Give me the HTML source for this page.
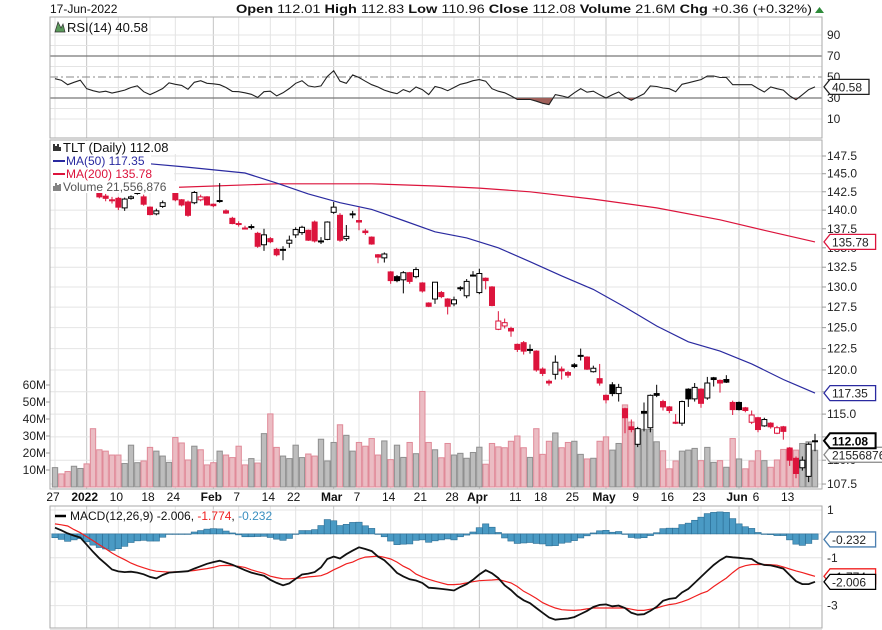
<!DOCTYPE html>
<html><head><meta charset="utf-8"><style>
html,body{margin:0;padding:0;background:#fff;}
svg{display:block;font-family:"Liberation Sans",Arial,sans-serif;}
</style></head><body>
<svg id="chart" width="882" height="630" viewBox="0 0 882 630" xmlns="http://www.w3.org/2000/svg">
<rect x="0" y="0" width="882" height="630" fill="#fff"/>
<g id="grid"></g>
<g id="vol"></g>
<g id="ma"></g>
<g id="candles"></g>
<g id="rsi"></g>
<g id="macd"></g>
<g id="frames"></g>
<g id="axes"></g>
<g id="legend"></g>
</svg>
<script>
const dateLabels=["27","2022","10","18","24","Feb","7","14","22","Mar","7","14","21","28","Apr","11","18","25","May","9","16","23","Jun","6","13"];
const dateLabelIdx=[0,5,10,15,19,25,29,34,38,44,48,53,58,63,67,73,77,82,87,92,97,102,108,111,116];
const monthLabels=["2022","Feb","Mar","Apr","May","Jun"];
const opens=[148.4,148.5,147.5,146.9,147.9,146.1,144.6,143.2,141.9,141.4,141.6,140.3,141.6,142.4,141.8,140.4,139.5,140.5,142.9,142.9,141.4,141.1,141.0,141.4,141.8,140.8,141.2,139.9,138.9,138.2,137.6,137.8,136.9,135.4,136.2,134.8,134.8,135.6,136.7,137.0,137.3,138.4,135.9,136.1,139.7,139.3,136.2,139.5,138.6,137.2,136.4,134.1,133.7,131.9,131.3,130.9,131.8,131.3,130.5,128.0,128.5,129.3,128.5,127.9,129.8,128.9,131.4,129.3,131.1,130.0,124.8,125.2,124.9,123.0,123.2,122.4,122.2,120.1,118.7,119.5,120.1,119.7,120.6,121.7,121.5,119.8,119.0,117.1,118.3,117.3,115.6,113.6,111.7,115.3,113.5,117.3,116.4,115.8,114.1,114.0,117.8,116.7,117.8,116.8,119.1,118.8,118.9,116.3,116.3,115.7,114.1,114.6,113.7,114.0,112.9,113.6,111.3,110.2,109.2,108.3,112.01];
const highs=[149.2,149.0,148.0,148.0,148.7,146.3,145.0,143.4,142.2,141.8,141.8,141.7,142.0,142.6,142.1,140.5,140.2,141.3,143.5,143.0,141.5,141.3,142.6,142.1,141.9,140.9,143.7,140.1,139.1,138.5,137.9,138.1,137.1,137.5,136.4,135.0,135.2,136.6,137.7,137.9,137.4,138.6,136.4,138.5,141.1,139.6,138.0,139.9,140.4,137.5,136.5,134.2,134.4,132.0,131.5,132.0,131.9,132.5,130.6,128.1,130.6,129.5,128.6,128.8,130.1,131.0,132.0,132.3,131.2,130.1,127.0,126.1,125.1,123.1,123.4,123.0,122.3,120.3,118.9,121.7,120.4,119.9,120.8,122.5,121.6,120.5,120.7,117.2,118.6,118.4,115.7,114.4,113.6,116.3,117.2,118.3,116.6,115.9,115.0,116.5,117.9,118.5,117.9,119.2,119.2,118.9,119.4,116.5,116.4,115.8,115.4,114.7,114.6,114.1,113.7,113.7,111.4,110.4,110.4,111.9,112.83];
const lows=[147.9,147.7,146.2,146.7,147.5,144.6,143.7,141.6,141.2,140.9,140.0,139.9,141.4,142.1,140.6,139.3,139.3,140.3,142.7,141.2,140.5,139.1,140.8,141.2,140.6,140.4,141.0,139.5,138.1,137.8,137.4,137.4,135.0,134.6,135.6,133.9,133.4,135.0,136.3,136.7,135.9,135.7,135.5,136.0,139.5,135.8,135.9,138.9,137.3,136.7,135.4,133.0,133.1,130.4,130.6,129.2,130.4,131.1,129.3,127.5,127.9,128.6,126.6,127.6,129.5,128.6,131.3,129.1,129.7,127.6,124.7,124.9,123.9,122.1,121.8,121.9,119.8,119.3,118.2,118.9,118.9,119.1,120.2,121.1,120.0,119.7,118.2,116.2,117.0,116.4,112.9,113.0,111.4,113.1,113.0,116.9,115.4,115.1,113.9,113.7,115.8,116.4,115.7,116.6,118.1,117.4,118.5,114.9,115.4,115.2,113.9,113.0,113.6,113.4,112.8,112.2,109.4,108.1,108.9,107.7,110.96];
const closes=[148.7,148.1,146.6,147.6,148.3,144.9,144.1,141.8,141.6,141.3,140.4,141.5,141.8,142.4,140.8,139.4,139.9,141.0,143.1,141.4,140.7,139.3,142.4,141.8,140.7,140.6,141.3,139.6,138.2,138.1,137.5,137.7,135.2,136.7,135.8,134.1,134.8,136.0,137.4,137.7,136.0,135.9,135.9,138.4,140.4,136.0,136.5,139.5,138.4,137.0,135.5,133.8,134.2,130.8,130.8,131.8,130.7,132.2,129.5,127.6,130.6,128.8,127.6,128.4,129.9,130.7,131.5,131.7,130.8,127.7,125.8,125.6,124.6,122.4,122.2,122.4,120.0,119.6,118.5,120.9,119.9,119.4,120.4,121.7,120.1,120.2,118.5,116.6,117.3,118.0,114.6,113.3,113.4,115.1,117.1,117.1,115.8,115.4,114.0,116.4,116.7,118.0,116.2,118.5,118.9,118.5,118.6,115.5,115.5,115.4,114.9,113.3,114.4,113.6,113.5,113.1,110.0,108.6,110.0,111.7,112.08];
const volumes=[11.4,7.7,9.1,12.2,10.9,13.6,34.3,21.9,21.1,18.8,18.8,13.8,24.6,14.3,15.3,23.3,21.1,18.2,14.5,29.1,25.9,15.9,24.0,21.9,13.0,14.3,21.1,18.8,17.3,24.0,13.0,16.7,14.1,31.4,43.0,23.3,18.2,16.7,24.6,17.3,19.4,18.2,28.1,15.3,26.2,36.6,30.4,21.1,26.2,24.0,28.5,18.8,27.1,16.1,24.6,17.4,26.2,19.6,56.2,26.2,21.9,17.2,25.6,18.8,19.8,16.9,20.3,23.4,13.4,25.6,23.6,23.1,26.9,30.0,23.1,17.4,34.3,19.2,26.9,31.8,23.1,26.2,26.9,19.2,16.5,16.9,26.9,29.5,21.7,25.6,48.3,38.2,33.3,33.9,33.9,26.6,21.3,10.7,15.3,21.1,21.7,22.7,15.5,23.3,14.5,15.5,11.6,28.5,16.5,10.7,15.3,21.3,15.5,11.6,15.9,22.1,22.3,21.7,25.6,26.6,21.6];
const ma50Idx=[15,20,30,35,40,45,50,55,60,65,70,75,80,85,90,95,100,105,110,115,120];
const ma50Vals=[146.4,146.0,145.1,143.7,142.2,141.0,140.1,138.6,137.1,136.3,135.0,133.2,131.4,129.7,127.5,125.2,123.3,122.2,120.7,118.9,117.35];
const ma200Idx=[19,35,50,60,67,75,85,95,105,112,120];
const ma200Vals=[143.1,143.6,143.6,143.3,143.0,142.5,141.5,140.3,138.7,137.3,135.78];
const rsiVals=[48.4,47,42.7,45,47,38.9,37,35.5,36.5,34.8,36,37.5,40,41.5,36,33.2,36,39,44.5,43,42,38.3,45,46.5,44,43.5,42.7,40,36.3,36,35,33.5,30.5,36,36.5,32,35,39,44,46.5,41.5,40.5,41.5,50.5,56,46,44,52,49.5,46,42.7,40.5,37.5,35.5,34.1,38,35.7,40.5,38,33.2,41,39.5,37,40,43,44.5,46.5,47.5,46,38.9,36.5,35,32,28.7,28.7,28.7,27,25,23.7,33.2,32,30.5,35,38.9,35.5,36.5,33,30,33,35.7,31,27.8,31,34,41.4,41,39.5,38.9,36,43,44.5,46,47.5,51,51,49.5,49.5,42.7,42.7,42.7,42.7,39,35.7,40.5,38.9,37.5,32,28.4,33,38,40.58];
const rsiTicks=[90,70,50,30,10];
const macdVals=[0.26,0.15,0.02,-0.07,-0.15,-0.45,-0.75,-1.02,-1.25,-1.49,-1.57,-1.60,-1.58,-1.62,-1.69,-1.80,-1.86,-1.72,-1.62,-1.60,-1.58,-1.56,-1.45,-1.35,-1.25,-1.18,-1.12,-1.20,-1.29,-1.40,-1.52,-1.62,-1.69,-1.75,-1.92,-2.05,-2.15,-2.07,-1.88,-1.70,-1.66,-1.60,-1.40,-1.05,-0.95,-1.03,-0.85,-0.70,-0.56,-0.63,-0.72,-0.95,-1.10,-1.35,-1.63,-1.78,-1.90,-1.95,-2.05,-2.25,-2.27,-2.30,-2.33,-2.37,-2.22,-2.10,-1.92,-1.70,-1.52,-1.65,-1.85,-2.15,-2.35,-2.60,-2.78,-2.90,-3.10,-3.30,-3.50,-3.59,-3.56,-3.54,-3.48,-3.35,-3.22,-3.06,-2.97,-2.95,-3.03,-3.00,-3.10,-3.30,-3.38,-3.36,-3.22,-3.05,-2.80,-2.72,-2.68,-2.45,-2.30,-2.05,-1.80,-1.55,-1.30,-1.10,-0.95,-0.98,-1.00,-1.03,-1.05,-1.22,-1.30,-1.32,-1.38,-1.45,-1.72,-1.98,-2.10,-2.10,-2.006];
const signalVals=[0.42,0.38,0.33,0.18,0.05,-0.12,-0.28,-0.45,-0.62,-0.80,-0.95,-1.08,-1.22,-1.33,-1.42,-1.50,-1.56,-1.58,-1.60,-1.59,-1.58,-1.56,-1.53,-1.49,-1.45,-1.40,-1.33,-1.32,-1.33,-1.36,-1.40,-1.50,-1.58,-1.65,-1.77,-1.83,-1.88,-1.88,-1.86,-1.84,-1.80,-1.78,-1.75,-1.65,-1.50,-1.38,-1.25,-1.18,-1.05,-0.97,-0.95,-0.93,-0.98,-1.05,-1.18,-1.35,-1.48,-1.68,-1.80,-1.90,-1.98,-2.05,-2.12,-2.12,-2.10,-2.05,-2.00,-1.96,-1.94,-1.93,-1.91,-1.98,-2.05,-2.20,-2.40,-2.54,-2.70,-2.88,-3.00,-3.10,-3.17,-3.19,-3.20,-3.18,-3.14,-3.10,-3.10,-3.10,-3.10,-3.10,-3.10,-3.15,-3.20,-3.20,-3.15,-3.10,-3.02,-2.96,-2.92,-2.84,-2.75,-2.62,-2.50,-2.40,-2.20,-2.02,-1.85,-1.62,-1.42,-1.33,-1.28,-1.28,-1.28,-1.29,-1.31,-1.38,-1.47,-1.55,-1.62,-1.70,-1.774];
const priceTicks=[147.5,145.0,142.5,140.0,137.5,135.0,132.5,130.0,127.5,125.0,122.5,120.0,117.5,115.0,112.5,110.0,107.5];
const volTicks=[10,20,30,40,50,60];
const macdTicks=[1,-1,-3];

const NS='http://www.w3.org/2000/svg';
const L=50,R=822,X0=55,X1=815;
const N=closes.length;
function xOf(i){return X0+i*(X1-X0)/(N-1);}
const step=(X1-X0)/(N-1);
function yP(p){return 156+(Math.log(147.5)-Math.log(p))*1037;}
function yV(v){return 487-v*1.7;}
function yR(v){return 77-(v-50)*1.05;}
function yM(v){return 533.9-v*23.9;}
function mk(parent,tag,attrs,text){const e=document.createElementNS(NS,tag);for(const k in attrs)e.setAttribute(k,attrs[k]);if(text!==undefined)e.textContent=text;document.getElementById(parent).appendChild(e);return e;}

const panels=[[17,138],[140,489],[506,628]];
for(let k=0;k<dateLabelIdx.length;k++){
  const gx=xOf(dateLabelIdx[k]);
  const isMonth=monthLabels.indexOf(dateLabels[k])>=0;
  for(const p of panels){
    const ln=mk('grid','line',{x1:gx,x2:gx,y1:p[0],y2:p[1],stroke:isMonth?'#c4c4c4':'#e4e4e4','stroke-width':1});
    
    
  }
  const t=mk('axes','text',{x:gx-2,y:501,'font-size':12,'text-anchor':'middle','font-weight':isMonth?'bold':'normal',fill:'#111'},dateLabels[k]);
  
  
}
for(const p of priceTicks){
  const y=yP(p);
  const ln=mk('grid','line',{x1:L,x2:R,y1:y,y2:y,stroke:'#e4e4e4'});
  
  
  mk('axes','line',{x1:R,x2:R+4,y1:y,y2:y,stroke:'#999'});
  const t=mk('axes','text',{x:827,y:y+4,'font-size':12,fill:'#222'},p.toFixed(1));
  
  
}
for(const v of volTicks){
  const y=yV(v);
  const t=mk('axes','text',{x:46,y:y+4,'font-size':12,'text-anchor':'end',fill:'#222'},v+'M');
  
  
  mk('axes','line',{x1:46,x2:L,y1:y,y2:y,stroke:'#999'});
}
for(let v=10;v<=90;v+=10){
  const y=yR(v);
  const c=(v===70||v===30)?'#777':'#e4e4e4';
  const ln=mk('grid','line',{x1:L,x2:R,y1:y,y2:y,stroke:c,'stroke-width':(v===70||v===30)?1.3:1});
  if(v===50){ln.setAttribute('stroke','#888');ln.setAttribute('stroke-dasharray','8,3,2,3');}
  
  
}
for(const v of rsiTicks){
  const t=mk('axes','text',{x:827,y:yR(v)+4,'font-size':12,fill:'#222'},String(v));
  
  
}
for(let v=1;v>=-4;v-=1){
  const ln=mk('grid','line',{x1:L,x2:R,y1:yM(v),y2:yM(v),stroke:'#e4e4e4'});
  
  
}
for(const v of macdTicks){
  const t=mk('axes','text',{x:827,y:yM(v)+4,'font-size':12,fill:'#222'},String(v));
  
  
}

for(let i=0;i<N;i++){
  const up=i===0?true:closes[i]>=closes[i-1];
  const x=xOf(i)-step/2+0.5, y=yV(volumes[i]);
  const b=mk('vol','rect',{x:x,y:y,width:step-1,height:487-y,fill:up?'#bdbdbd':'#ebbcc3',stroke:up?'#8f8f8f':'#e08a98','stroke-width':1});
  
  
}
function pathFrom(idx,vals,yf){return idx.map((k,j)=>(j?'L':'M')+xOf(k).toFixed(1)+','+yf(vals[j]).toFixed(1)).join(' ');}
const m200=mk('ma','path',{d:pathFrom(ma200Idx,ma200Vals,yP),fill:'none',stroke:'#dc143c','stroke-width':1.2});


const m50=mk('ma','path',{d:pathFrom(ma50Idx,ma50Vals,yP),fill:'none',stroke:'#2a2aa0','stroke-width':1.2});



for(let i=0;i<N;i++){
  const up=i===0?true:closes[i]>=closes[i-1];
  const col=up?'#000':'#dc143c';
  const hollow=closes[i]>=opens[i];
  const x=xOf(i);
  const w=mk('candles','line',{x1:x,x2:x,y1:yP(highs[i]),y2:yP(lows[i]),stroke:col,'stroke-width':1});
  
  
  const top=yP(Math.max(opens[i],closes[i])),bot=yP(Math.min(opens[i],closes[i]));
  const b=mk('candles','rect',{x:x-2.5,y:top,width:5,height:Math.max(1,bot-top),fill:hollow?'#fff':col,stroke:col,'stroke-width':1});
  
  
}

const y30=yR(30);
const rsiD=rsiVals.map((v,i)=>(i?'L':'M')+xOf(i).toFixed(1)+','+yR(v).toFixed(1)).join(' ');
mk('rsi','clipPath',{id:'below30'});
mk('below30','rect',{x:L,y:y30,width:R-L,height:40});
const rf=mk('rsi','path',{d:rsiD+' L'+xOf(N-1)+','+y30+' L'+xOf(0)+','+y30+' Z',fill:'#a0605a','clip-path':'url(#below30)'});


const rl=mk('rsi','path',{d:rsiD,fill:'none',stroke:'#222','stroke-width':1.1});



for(let i=0;i<N;i++){
  const h=macdVals[i]-signalVals[i];
  const y0=yM(0),y1=yM(h);
  const b=mk('macd','rect',{x:xOf(i)-step/2,y:Math.min(y0,y1),width:step,height:Math.max(0.5,Math.abs(y1-y0)),fill:'#4a9ac4',stroke:'#2b6d94','stroke-width':0.6});
  
  
}
const sl=mk('macd','path',{d:signalVals.map((v,i)=>(i?'L':'M')+xOf(i).toFixed(1)+','+yM(v).toFixed(1)).join(' '),fill:'none',stroke:'#f02020','stroke-width':1.2});


const ml=mk('macd','path',{d:macdVals.map((v,i)=>(i?'L':'M')+xOf(i).toFixed(1)+','+yM(v).toFixed(1)).join(' '),fill:'none',stroke:'#111','stroke-width':1.8});



for(const p of panels){
  const f=mk('frames','rect',{x:L,y:p[0],width:R-L,height:p[1]-p[0],fill:'none',stroke:'#aaa','stroke-width':1});
  
  
}

function tag(y,txt,border,color,bold,name){
  const g=mk('legend','g',{});
  
  
  const w=txt.length*6.6+6;
  const p=document.createElementNS(NS,'path');
  p.setAttribute('d','M824,'+y+' L830,'+(y-7.5)+' L'+(830+w)+','+(y-7.5)+' L'+(830+w)+','+(y+7.5)+' L830,'+(y+7.5)+' Z');
  p.setAttribute('fill','#fff');p.setAttribute('stroke',border);p.setAttribute('stroke-width',bold?2:1.3);
  g.appendChild(p);
  const t=document.createElementNS(NS,'text');
  t.setAttribute('x',832);t.setAttribute('y',y+4.5);t.setAttribute('font-size',12);t.setAttribute('fill',color);
  if(bold)t.setAttribute('font-weight','bold');
  t.textContent=txt;g.appendChild(t);
  document.getElementById('legend').appendChild(g);
}
tag(yR(rsiVals[N-1]),'40.58','#222','#222',false,'rsi-value-tag');
tag(yP(ma200Vals[ma200Vals.length-1]),'135.78','#dc143c','#222',false,'ma200-value-tag');
tag(yP(ma50Vals[ma50Vals.length-1]),'117.35','#2a2aa0','#222',false,'ma50-value-tag');
tag(yP(closes[N-1])+14,'21556876','#888','#222',false,'volume-value-tag');
tag(yP(closes[N-1]),'112.08','#000','#000',true,'close-value-tag');
tag(yM(macdVals[N-1]-signalVals[N-1]),'-0.232','#4a7fb0','#222',false,'histogram-value-tag');
tag(yM(signalVals[N-1]),'-1.774','#f02020','#222',false,'signal-value-tag');
tag(yM(macdVals[N-1]),'-2.006','#000','#222',false,'macd-value-tag');
</script>
<script>
(function(){
const NS='http://www.w3.org/2000/svg';
const lg=document.getElementById('legend');
function add(tag,attrs,text,name){const e=document.createElementNS(NS,tag);for(const k in attrs)e.setAttribute(k,attrs[k]);if(text!==undefined)e.textContent=text;


lg.appendChild(e);return e;}
add('text',{x:50,y:13,'font-size':12,fill:'#111'},'17-Jun-2022','header-date');
const h=add('text',{x:236,y:13,'font-size':12,fill:'#111',textLength:576,lengthAdjust:'spacingAndGlyphs'},undefined,'header-ohlc');
h.innerHTML='<tspan font-weight="bold">Open</tspan> 112.01 <tspan font-weight="bold">High</tspan> 112.83 <tspan font-weight="bold">Low</tspan> 110.96 <tspan font-weight="bold">Close</tspan> 112.08 <tspan font-weight="bold">Volume</tspan> 21.6M <tspan font-weight="bold">Chg</tspan> +0.36 (+0.32%)';
add('path',{d:'M815,13 L819.5,7 L824,13 Z',fill:'#2e8b3a'},undefined,'change-up-triangle');
add('path',{d:'M55,32 L58,22 L61,28 L63,24 L65,32 Z',fill:'#5a9a5a',stroke:'#333','stroke-width':0.7},undefined,'rsi-icon');
add('text',{x:67,y:32,'font-size':13,fill:'#111'},'RSI(14) 40.58','rsi-legend');
add('rect',{x:51,y:141,width:150,height:13,fill:'#fff'},undefined,'legend-bg');
add('rect',{x:51,y:154,width:100,height:14,fill:'#fff'},undefined,'legend-bg');
add('rect',{x:51,y:168,width:123,height:13,fill:'#fff'},undefined,'legend-bg');
add('rect',{x:51,y:181,width:128,height:12,fill:'#fff'},undefined,'legend-bg');
add('path',{d:'M54,151 L54,144 M56,151 L56,146 M58,151 L58,144 M60,151 L60,147',stroke:'#000','stroke-width':1.6},undefined,'tlt-candle-icon');
add('text',{x:63,y:152,'font-size':13,fill:'#111'},'TLT (Daily) 112.08','tlt-legend');
add('line',{x1:53,x2:65,y1:161,y2:161,stroke:'#2a2aa0','stroke-width':2},undefined,'ma50-legend-swatch');
add('text',{x:66,y:165,'font-size':12,fill:'#2a2aa0'},'MA(50) 117.35','ma50-legend');
add('line',{x1:53,x2:65,y1:174,y2:174,stroke:'#dc143c','stroke-width':2},undefined,'ma200-legend-swatch');
add('text',{x:66,y:178,'font-size':12,fill:'#dc143c'},'MA(200) 135.78','ma200-legend');
add('path',{d:'M54,191 L54,186 M56,191 L56,183 M58,191 L58,185 M60,191 L60,184',stroke:'#666','stroke-width':1.6},undefined,'volume-icon');
add('text',{x:63,y:191,'font-size':12,fill:'#555'},'Volume 21,556,876','volume-legend');
add('line',{x1:55,x2:66,y1:516,y2:516,stroke:'#000','stroke-width':2.5},undefined,'macd-legend-swatch');
const m=add('text',{x:70,y:520,'font-size':12,fill:'#111'},undefined,'macd-legend');
m.innerHTML='MACD(12,26,9) -2.006, <tspan fill="#f02020">-1.774</tspan>, <tspan fill="#3a8fc0">-0.232</tspan>';
})();
</script>
</body></html>
